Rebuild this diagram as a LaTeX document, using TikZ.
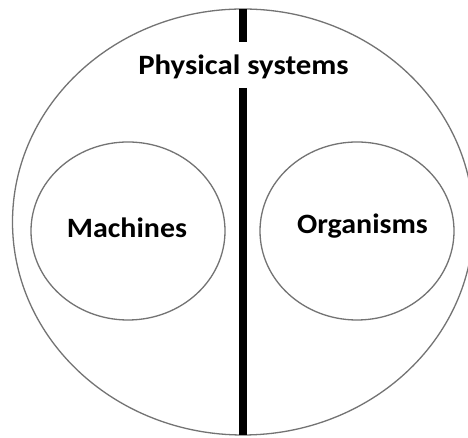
\documentclass[tikz,border=0pt]{standalone}
\usepackage{fontspec}
\setmainfont{Carlito}
\begin{document}
\begin{tikzpicture}[x=1pt,y=1pt,
  ring/.style={draw=black!55,line width=1.3pt},
  bar/.style={line width=8pt,black},
  lbl/.style={font=\bfseries\fontsize{28}{32}\selectfont,inner sep=0pt,anchor=base}]
\useasboundingbox (0,0) rectangle (468,438);
\clip (0,0) rectangle (468,438);
\fill[white] (0,0) rectangle (468,438);
% outer ellipse (438 - y)
\draw[ring] (243,216) ellipse [x radius=230.5,y radius=213];
\draw[ring] (128,207) ellipse [x radius=97,y radius=89];
\draw[ring] (357,207) ellipse [x radius=97,y radius=89];
\coordinate (t1) at (243,429);
\coordinate (t2) at (243,396);
\coordinate (b1) at (243,350);
\coordinate (b2) at (243,3);
\draw[bar] (t1) -- (t2);
\draw[bar] (b1) -- (b2);
\node[lbl] (ps) at (243.5,363) {\scalebox{1.1}[1]{Physical systems}};
\node[lbl] (m) at (127,200) {\scalebox{1.07}[1]{Machines}};
\node[lbl] (o) at (362.5,204) {\scalebox{1.07}[1]{Organisms}};
\end{tikzpicture}
\end{document}
